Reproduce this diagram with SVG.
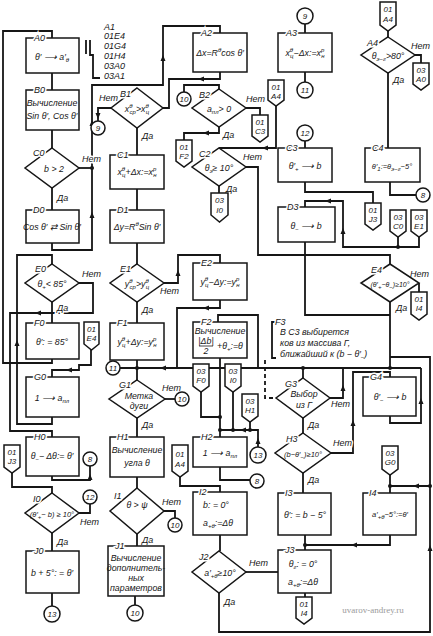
<svg xmlns="http://www.w3.org/2000/svg" xmlns:xlink="http://www.w3.org/1999/xlink" width="433" height="636" viewBox="0 0 433 636">
<style>
.l{fill:none;stroke:#161616;stroke-width:1.8}
.b{fill:#fff;stroke:#161616;stroke-width:1.5}
.t{font-family:"Liberation Sans",Arial,sans-serif;font-style:italic;font-size:8.8px;fill:#161616;text-anchor:middle}
.s{font-size:6px}
.lb{font-family:"Liberation Sans",Arial,sans-serif;font-style:italic;font-size:9px;fill:#161616;paint-order:stroke;stroke:#fff;stroke-width:3}
.c{font-family:"Liberation Sans",Arial,sans-serif;font-style:italic;font-size:8px;fill:#161616;text-anchor:middle}
.ci{fill:#fff;stroke:#161616;stroke-width:1.5}
.d{fill:#161616}
</style>
<defs>
<path id="ah" d="M0,0 L-6,-2.5 L-6,2.5 Z" fill="#161616"/>
</defs>
<rect width="433" height="636" fill="#fff"/>

<g id="connectors">
<path class="l" d="M52,359 V363 H3 V31 H52 V38"/>
<path class="l" d="M52,73 V90 M52,130 V148 M52,188 V210"/>
<path class="l" d="M79,168 H92"/>
<path class="l" d="M52,243 V250 H92 V85 H163 V26 H220 V33"/>
<path class="l" d="M52,417 V424 H17 V255 H52 V264"/>
<path class="l" d="M52,302 V323"/>
<path class="l" d="M79,283 H93 V313 H10 V431 H52 V437"/>
<path class="l" d="M91,350 V365 H79 V370 H52 V377"/>
<path class="l" d="M52,476 V480 H90 V466"/>
<path class="l" d="M12,473 V487 H52 V493"/>
<path class="l" d="M79,513 H90 V504"/>
<path class="l" d="M52,533 V551 M52,593 V606"/>
<path class="l" d="M86,40 V54 M90,40 V55 H93 V78 H100"/>
<path class="l" d="M111,108 H98 V121"/>
<path class="l" d="M220,72 V79 H169 V108 H163"/>
<path class="l" d="M137,128 V155 M137,189 V210 M137,243 V264 M137,302 V323"/>
<path class="l" d="M164,283 H178 V255 H220 V263"/>
<path class="l" d="M220,300 V308 H177 V368"/>
<path class="l" d="M137,360 V380 M120,368 H421"/>
<path class="l" d="M218,322 V315 H258 V368"/>
<path class="l" d="M165,399 H175"/>
<path class="l" d="M137,418 V437 M137,477 V488"/>
<path class="l" d="M164,511 H175 V518"/>
<path class="l" d="M137,534 V546 M135,596 V605"/>
<path class="l" d="M184,92 V85 H219 V89"/>
<path class="l" d="M246,108 H260 V115"/>
<path class="l" d="M219,127 V133 H184 V140"/>
<path class="l" d="M276,106 V148 H219"/>
<path class="l" d="M219,186 V193"/>
<path class="l" d="M246,167 H258 V255 H390 V264"/>
<path class="l" d="M220,358 V437"/>
<path class="l" d="M201,392 V417 H220"/>
<path class="l" d="M233,392 V430 M250,422 V430 M220,430 H258 V447"/>
<path class="l" d="M220,467 V480 H250"/>
<path class="l" d="M180,477 V486 H220 V492"/>
<path class="l" d="M220,535 V551"/>
<path class="l" d="M246,572 H278"/>
<path class="l" d="M219,593 V632 H430 V357 H390"/>
<path class="l" d="M305,24 V33 M305,72 V82 M305,141 V148"/>
<path class="l" d="M305,182 V192 H373 V203"/>
<path class="l" d="M398,237 V247 M419,237 V247 H343 V201 H305 V207"/>
<path class="l" d="M305,242 V315 H390"/>
<path class="l" d="M390,302 V368"/>
<path class="l" d="M419,283 V292"/>
<path class="l" d="M388,31 V37 M415,55 H421 V63 M388,73 V148"/>
<path class="l" d="M390,182 V195 H416"/>
<path class="l" d="M303,368 V378"/>
<path class="l" d="M330,398 H343 V368"/>
<path class="l" d="M303,418 V433"/>
<path class="l" d="M331,453 H353 V372 H390 V377"/>
<path class="l" d="M390,416 V423 H421 V368"/>
<path class="l" d="M303,473 V493"/>
<path class="l" d="M305,535 V550 M390,535 V545 H305"/>
<path class="l" d="M390,475 V493 M390,486 H430"/>
<path class="l" d="M305,593 V597"/>
<path class="l" d="M265,360 V398 H277" stroke-dasharray="4,3"/>
<path class="l" d="M276,322 H272 V358 H276"/>
<use xlink:href="#ah" transform="translate(92,212) rotate(270)"/>
<use xlink:href="#ah" transform="translate(92,120) rotate(270)"/>
<use xlink:href="#ah" transform="translate(163,55) rotate(270)"/>
<use xlink:href="#ah" transform="translate(17,340) rotate(270)"/>
<use xlink:href="#ah" transform="translate(35,313) rotate(180)"/>
<use xlink:href="#ah" transform="translate(66,370) rotate(180)"/>
<use xlink:href="#ah" transform="translate(90,474) rotate(270)"/>
<use xlink:href="#ah" transform="translate(98,119) rotate(90)"/>
<use xlink:href="#ah" transform="translate(198,79) rotate(180)"/>
<use xlink:href="#ah" transform="translate(178,270) rotate(270)"/>
<use xlink:href="#ah" transform="translate(203,308) rotate(180)"/>
<use xlink:href="#ah" transform="translate(160,368) rotate(180)"/>
<use xlink:href="#ah" transform="translate(203,133) rotate(180)"/>
<use xlink:href="#ah" transform="translate(262,148) rotate(180)"/>
<use xlink:href="#ah" transform="translate(240,430) rotate(180)"/>
<use xlink:href="#ah" transform="translate(258,438) rotate(270)"/>
<use xlink:href="#ah" transform="translate(430,545) rotate(270)"/>
<use xlink:href="#ah" transform="translate(325,201) rotate(180)"/>
<use xlink:href="#ah" transform="translate(343,228) rotate(270)"/>
<use xlink:href="#ah" transform="translate(343,385) rotate(270)"/>
<use xlink:href="#ah" transform="translate(353,420) rotate(270)"/>
<use xlink:href="#ah" transform="translate(421,398) rotate(270)"/>
<use xlink:href="#ah" transform="translate(351,545) rotate(180)"/>
<use xlink:href="#ah" transform="translate(413,486) rotate(180)"/>
<circle class="d" cx="92" cy="168" r="2"/>
<circle class="d" cx="137" cy="368" r="2"/>
<circle class="d" cx="220" cy="417" r="2"/>
<circle class="d" cx="220" cy="430" r="2"/>
<circle class="d" cx="233" cy="430" r="2"/>
<circle class="d" cx="250" cy="430" r="2"/>
<circle class="d" cx="398" cy="247" r="2"/>
<circle class="d" cx="303" cy="368" r="2"/>
<circle class="d" cx="390" cy="368" r="2"/>
<circle class="d" cx="305" cy="545" r="2"/>
<circle class="d" cx="390" cy="486" r="2"/>
<circle class="d" cx="430" cy="486" r="2"/>
<text class="lb" x="82" y="162">Нет</text>
<text class="lb" x="57" y="201">Да</text>
<text class="lb" x="82" y="277">Нет</text>
<text class="lb" x="57" y="311">Да</text>
<text class="lb" x="80" y="525">Нет</text>
<text class="lb" x="57" y="545">Да</text>
<text class="lb" x="99" y="101">Нет</text>
<text class="lb" x="142" y="139">Да</text>
<text class="lb" x="160" y="294">Нет</text>
<text class="lb" x="142" y="313">Да</text>
<text class="lb" x="162" y="391">Нет</text>
<text class="lb" x="142" y="428">Да</text>
<text class="lb" x="162" y="505">Нет</text>
<text class="lb" x="142" y="543">Да</text>
<text class="lb" x="246" y="102">Нет</text>
<text class="lb" x="223" y="138">Да</text>
<text class="lb" x="243" y="160">Нет</text>
<text class="lb" x="226" y="192">Да</text>
<text class="lb" x="249" y="566">Нет</text>
<text class="lb" x="224" y="605">Да</text>
<text class="lb" x="411" y="49">Нет</text>
<text class="lb" x="393" y="83">Да</text>
<text class="lb" x="410" y="277">Нет</text>
<text class="lb" x="396" y="311">Да</text>
<text class="lb" x="331" y="407">Нет</text>
<text class="lb" x="308" y="428">Да</text>
<text class="lb" x="333" y="446">Нет</text>
<text class="lb" x="308" y="483">Да</text>
</g>

<g id="A1">
<text class="lb" x="104" y="30">A1</text>
<text class="lb" x="104" y="39">01E4</text>
<text class="lb" x="104" y="49">01G4</text>
<text class="lb" x="104" y="59">01H4</text>
<text class="lb" x="104" y="69">03A0</text>
<text class="lb" x="104" y="79">03A1</text>
</g>

<g id="A0"><rect class="b" x="26" y="38" width="53" height="35"/><text class="lb" x="34" y="41">A0</text><text class="t" x="52" y="60">θ′ ⟶ a′<tspan class="s" dy="2">θ</tspan></text></g>
<g id="B0"><rect class="b" x="26" y="90" width="53" height="40"/><text class="lb" x="34" y="93">B0</text><text class="t" x="52" y="106">Вычисление</text><text class="t" x="52" y="119">Sin θ′, Cos θ′</text></g>
<g id="C0"><path class="b" d="M52,148 L79,168 L52,188 L25,168 Z"/><text class="lb" x="33" y="156">C0</text><text class="t" x="54" y="172">b &gt; 2</text></g>
<g id="D0"><rect class="b" x="26" y="210" width="53" height="33"/><text class="lb" x="33" y="213">D0</text><text class="t" x="52" y="230">Cos θ′ ⇄ Sin θ′</text></g>
<g id="E0"><path class="b" d="M52,264 L79,283 L52,302 L25,283 Z"/><text class="lb" x="35" y="272">E0</text><text class="t" x="52" y="287">θ<tspan class="s" dy="2">+</tspan><tspan dy="-2">&lt; 85°</tspan></text></g>
<g id="F0"><rect class="b" x="26" y="323" width="53" height="36"/><text class="lb" x="34" y="326">F0</text><text class="t" x="52" y="345">θ′: = 85°</text></g>
<g id="G0"><rect class="b" x="26" y="377" width="53" height="40"/><text class="lb" x="34" y="380">G0</text><text class="t" x="52" y="401">1 ⟶ a<tspan class="s" dy="2">пл</tspan></text></g>
<g id="H0"><rect class="b" x="26" y="437" width="53" height="39"/><text class="lb" x="34" y="440">H0</text><text class="t" x="52" y="459">θ<tspan class="s" dy="2">−</tspan><tspan dy="-2">− Δθ:= θ′</tspan></text></g>
<g id="I0"><path class="b" d="M52,493 L79,513 L52,533 L25,513 Z"/><text class="lb" x="33" y="502">I0</text><text class="t" x="52" y="517" style="font-size:7.5px">(θ′<tspan class="s" dy="2">+</tspan><tspan dy="-2">− b) ≥ 10°</tspan></text></g>
<g id="J0"><rect class="b" x="26" y="551" width="53" height="42"/><text class="lb" x="34" y="554">J0</text><text class="t" x="52" y="576">b + 5°: = θ′</text></g>
<g id="n13a"><circle class="ci" cx="52" cy="614" r="8"/><text class="c" x="52" y="617">13</text></g>
<g id="n8a"><circle class="ci" cx="90" cy="459" r="7"/><text class="c" x="90" y="462">8</text></g>
<g id="n12a"><circle class="ci" cx="90" cy="497" r="7"/><text class="c" x="90" y="500">12</text></g>
<g id="k01E4"><path class="b" d="M84,322 H99 V344 L91.5,350 L84,344 Z"/><text class="c" x="91.5" y="332">01</text><text class="c" x="91.5" y="341">E4</text></g>
<g id="k01J3a"><path class="b" d="M4,445 H20 V467 L12,473 L4,467 Z"/><text class="c" x="12" y="455">01</text><text class="c" x="12" y="464">J3</text></g>

<g id="B1"><path class="b" d="M137,88 L163,108 L137,128 L111,108 Z"/><text class="lb" x="120" y="97">B1</text><text class="t" x="137" y="112">x<tspan class="s" dy="-4">θ</tspan><tspan class="s" dx="-3" dy="6">ср</tspan><tspan dy="-2">&gt;x</tspan><tspan class="s" dy="-4">θ</tspan><tspan class="s" dx="-3" dy="6">ц</tspan></text></g>
<g id="n9a"><circle class="ci" cx="98" cy="128" r="7"/><text class="c" x="98" y="131">9</text></g>
<g id="C1"><rect class="b" x="110" y="155" width="54" height="34"/><text class="lb" x="117" y="158">C1</text><text class="t" x="137" y="175">x<tspan class="s" dy="-4">θ</tspan><tspan class="s" dx="-3" dy="6">ц</tspan><tspan dy="-2">+Δx:=x</tspan><tspan class="s" dy="-4">p</tspan><tspan class="s" dx="-3" dy="6">н</tspan></text></g>
<g id="D1"><rect class="b" x="110" y="210" width="54" height="33"/><text class="lb" x="117" y="213">D1</text><text class="t" x="137" y="230">Δy=R<tspan class="s" dy="-4">θ</tspan><tspan dy="4">Sin θ′</tspan></text></g>
<g id="E1"><path class="b" d="M137,264 L164,283 L137,302 L110,283 Z"/><text class="lb" x="120" y="272">E1</text><text class="t" x="137" y="287">y<tspan class="s" dy="-4">θ</tspan><tspan class="s" dx="-3" dy="6">ср</tspan><tspan dy="-2">&gt;y</tspan><tspan class="s" dy="-4">θ</tspan><tspan class="s" dx="-3" dy="6">ц</tspan></text></g>
<g id="F1"><rect class="b" x="110" y="323" width="54" height="37"/><text class="lb" x="117" y="326">F1</text><text class="t" x="137" y="345">y<tspan class="s" dy="-4">θ</tspan><tspan class="s" dx="-3" dy="6">ц</tspan><tspan dy="-2">+Δy:=y</tspan><tspan class="s" dy="-4">p</tspan><tspan class="s" dx="-3" dy="6">н</tspan></text></g>
<g id="n11a"><circle class="ci" cx="113" cy="368" r="7"/><text class="c" x="113" y="371">11</text></g>
<g id="G1"><path class="b" d="M137,380 L165,399 L137,418 L109,399 Z"/><text class="lb" x="119" y="388">G1</text><text class="t" x="139" y="399">Метка</text><text class="t" x="139" y="409">дуги</text></g>
<g id="n10a"><circle class="ci" cx="182" cy="399" r="7"/><text class="c" x="182" y="402">10</text></g>
<g id="H1"><rect class="b" x="110" y="437" width="54" height="40"/><text class="lb" x="117" y="440">H1</text><text class="t" x="137" y="453">Вычисление</text><text class="t" x="137" y="466">угла θ</text></g>
<g id="I1"><path class="b" d="M137,488 L164,511 L137,534 L110,511 Z"/><text class="lb" x="114" y="499">I1</text><text class="t" x="137" y="508">θ &gt; ψ</text></g>
<g id="n10b"><circle class="ci" cx="175" cy="525" r="7"/><text class="c" x="175" y="528">10</text></g>
<g id="J1"><rect class="b" x="108" y="546" width="56" height="50"/><text class="lb" x="115" y="549">J1</text><text class="t" x="136" y="561">Вычисление</text><text class="t" x="136" y="571">дополнитель-</text><text class="t" x="136" y="581">ных</text><text class="t" x="136" y="591">параметров</text></g>
<g id="n10c"><circle class="ci" cx="135" cy="613" r="8"/><text class="c" x="135" y="616">10</text></g>

<g id="A2"><rect class="b" x="193" y="33" width="54" height="39"/><text class="lb" x="201" y="36">A2</text><text class="t" x="220" y="56">Δx=R<tspan class="s" dy="-4">θ</tspan><tspan dy="4">cos θ′</tspan></text></g>
<g id="n10d"><circle class="ci" cx="184" cy="99" r="7"/><text class="c" x="184" y="102">10</text></g>
<g id="B2"><path class="b" d="M219,89 L246,108 L219,127 L192,108 Z"/><text class="lb" x="199" y="98">B2</text><text class="t" x="219" y="112">a<tspan class="s" dy="2">пл</tspan><tspan dy="-2">&gt; 0</tspan></text></g>
<g id="k01C3"><path class="b" d="M252,115 H268 V136 L260,142 L252,136 Z"/><text class="c" x="260" y="125">01</text><text class="c" x="260" y="134">C3</text></g>
<g id="k01A4b"><path class="b" d="M268,80 H284 V100 L276,106 L268,100 Z"/><text class="c" x="276" y="90">01</text><text class="c" x="276" y="99">A4</text></g>
<g id="k01F2"><path class="b" d="M176,140 H192 V161 L184,167 L176,161 Z"/><text class="c" x="184" y="150">01</text><text class="c" x="184" y="159">F2</text></g>
<g id="C2"><path class="b" d="M219,148 L246,167 L219,186 L192,167 Z"/><text class="lb" x="199" y="157">C2</text><text class="t" x="219" y="171">θ<tspan class="s" dy="2">э</tspan><tspan dy="-2">≥ 10°</tspan></text></g>
<g id="k03I0a"><path class="b" d="M211,193 H228 V215 L219.5,222 L211,215 Z"/><text class="c" x="219.5" y="203">03</text><text class="c" x="219.5" y="213">I0</text></g>
<g id="E2"><rect class="b" x="193" y="263" width="54" height="37"/><text class="lb" x="201" y="266">E2</text><text class="t" x="220" y="285">y<tspan class="s" dy="-4">θ</tspan><tspan class="s" dx="-3" dy="6">ц</tspan><tspan dy="-2">−Δy:=y</tspan><tspan class="s" dy="-4">p</tspan><tspan class="s" dx="-3" dy="6">н</tspan></text></g>
<g id="F2"><rect class="b" x="193" y="322" width="54" height="36"/><text class="lb" x="201" y="325">F2</text><text class="t" x="220" y="334">Вычисление</text><text class="t" x="206" y="344">|Δb|</text><path d="M199,346 H213" stroke="#161616" stroke-width="0.8"/><text class="t" x="206" y="354">2</text><text class="t" x="230" y="349">+θ<tspan class="s" dy="2">+</tspan><tspan dy="-2">:=θ</tspan></text></g>
<g id="k03F0"><path class="b" d="M193,364 H209 V386 L201,392 L193,386 Z"/><text class="c" x="201" y="374">03</text><text class="c" x="201" y="383">F0</text></g>
<g id="k03I0b"><path class="b" d="M225,364 H241 V386 L233,392 L225,386 Z"/><text class="c" x="233" y="374">03</text><text class="c" x="233" y="383">I0</text></g>
<g id="k03H1"><path class="b" d="M242,394 H258 V416 L250,422 L242,416 Z"/><text class="c" x="250" y="404">03</text><text class="c" x="250" y="413">H1</text></g>
<g id="n13b"><circle class="ci" cx="258" cy="455" r="8"/><text class="c" x="258" y="458">13</text></g>
<g id="H2"><rect class="b" x="193" y="437" width="54" height="30"/><text class="lb" x="201" y="440">H2</text><text class="t" x="220" y="456">1 ⟶ a<tspan class="s" dy="2">пл</tspan></text></g>
<g id="k01A4c"><path class="b" d="M172,445 H188 V471 L180,477 L172,471 Z"/><text class="c" x="180" y="457">01</text><text class="c" x="180" y="467">A4</text></g>
<g id="n8b"><circle class="ci" cx="257" cy="481" r="7"/><text class="c" x="257" y="484">8</text></g>
<g id="I2"><rect class="b" x="193" y="492" width="54" height="43"/><text class="lb" x="199" y="495">I2</text><text class="t" x="216" y="508">b: = 0°</text><text class="t" x="218" y="526">a<tspan class="s" dy="2">+θ</tspan><tspan dy="-2">:=Δθ</tspan></text></g>
<g id="J2"><path class="b" d="M219,551 L246,572 L219,593 L192,572 Z"/><text class="lb" x="199" y="560">J2</text><text class="t" x="220" y="576">a′<tspan class="s" dy="2">+θ</tspan><tspan dy="-2">≥10°</tspan></text></g>

<g id="n9b"><circle class="ci" cx="305" cy="16" r="8"/><text class="c" x="305" y="19">9</text></g>
<g id="A3"><rect class="b" x="278" y="33" width="54" height="39"/><text class="lb" x="286" y="36">A3</text><text class="t" x="305" y="56">x<tspan class="s" dy="-4">θ</tspan><tspan class="s" dx="-3" dy="6">ц</tspan><tspan dy="-2">−Δx:=x</tspan><tspan class="s" dy="-4">p</tspan><tspan class="s" dx="-3" dy="6">н</tspan></text></g>
<g id="n11b"><circle class="ci" cx="305" cy="90" r="8"/><text class="c" x="305" y="93">11</text></g>
<g id="n12b"><circle class="ci" cx="305" cy="133" r="8"/><text class="c" x="305" y="136">12</text></g>
<g id="C3"><rect class="b" x="278" y="148" width="54" height="34"/><text class="lb" x="286" y="151">C3</text><text class="t" x="305" y="169">θ′<tspan class="s" dy="2">+</tspan><tspan dy="-2"> ⟶ b</tspan></text></g>
<g id="D3"><rect class="b" x="278" y="207" width="57" height="35"/><text class="lb" x="287" y="210">D3</text><text class="t" x="306" y="229">θ<tspan class="s" dy="2">−</tspan><tspan dy="-2"> ⟶ b</tspan></text></g>
<g id="F3"><text class="lb" x="275" y="325">F3</text><text class="t" x="280" y="335" style="text-anchor:start">В С3 выбирется</text><text class="t" x="280" y="346" style="text-anchor:start">ков из массива  Г,</text><text class="t" x="280" y="357" style="text-anchor:start">ближайший к (b − θ′<tspan class="s" dy="2">−</tspan><tspan dy="-2">)</tspan></text></g>
<g id="G3"><path class="b" d="M303,378 L330,398 L303,418 L276,398 Z"/><text class="lb" x="285" y="387">G3</text><text class="t" x="304" y="397">Выбор</text><text class="t" x="304" y="408">из Г</text></g>
<g id="H3"><path class="b" d="M303,433 L331,453 L303,473 L275,453 Z"/><text class="lb" x="286" y="442">H3</text><text class="t" x="303" y="457" style="font-size:7.5px">(b−θ′<tspan class="s" dy="2">−</tspan><tspan dy="-2">)≥10°</tspan></text></g>
<g id="I3"><rect class="b" x="278" y="493" width="53" height="42"/><text class="lb" x="285" y="496">I3</text><text class="t" x="305" y="518">θ′: = b − 5°</text></g>
<g id="J3"><rect class="b" x="278" y="550" width="53" height="43"/><text class="lb" x="285" y="553">J3</text><text class="t" x="303" y="567">θ<tspan class="s" dy="2">г</tspan><tspan dy="-2">: = 0°</tspan></text><text class="t" x="303" y="585">a<tspan class="s" dy="2">+θ</tspan><tspan dy="-2">:=Δθ</tspan></text></g>
<g id="k01I4b"><path class="b" d="M296,597 H312 V618 L304,624 L296,618 Z"/><text class="c" x="304" y="607">01</text><text class="c" x="304" y="616">I4</text></g>

<g id="k01A4a"><path class="b" d="M380,2 H396 V25 L388,31 L380,25 Z"/><text class="c" x="388" y="12">01</text><text class="c" x="388" y="22">A4</text></g>
<g id="A4"><path class="b" d="M388,37 L415,55 L388,73 L361,55 Z"/><text class="lb" x="367" y="46">A4</text><text class="t" x="388" y="59">θ<tspan class="s" dy="2">э−г</tspan><tspan dy="-2">&gt;80°</tspan></text></g>
<g id="k03A0"><path class="b" d="M413,63 H429 V84 L421,90 L413,84 Z"/><text class="c" x="421" y="73">03</text><text class="c" x="421" y="82">A0</text></g>
<g id="C4"><rect class="b" x="365" y="148" width="55" height="34"/><text class="lb" x="372" y="151">C4</text><text class="t" x="392" y="169" style="font-size:7.5px">θ′<tspan class="s" dy="2">1</tspan><tspan dy="-2">:=θ</tspan><tspan class="s" dy="2">э−г</tspan><tspan dy="-2">−5°</tspan></text></g>
<g id="n8c"><circle class="ci" cx="423" cy="195" r="7"/><text class="c" x="423" y="198">8</text></g>
<g id="k01J3b"><path class="b" d="M365,203 H381 V224 L373,230 L365,224 Z"/><text class="c" x="373" y="213">01</text><text class="c" x="373" y="222">J3</text></g>
<g id="k03C0"><path class="b" d="M390,210 H406 V231 L398,237 L390,231 Z"/><text class="c" x="398" y="220">03</text><text class="c" x="398" y="229">C0</text></g>
<g id="k03E1"><path class="b" d="M411,210 H427 V231 L419,237 L411,231 Z"/><text class="c" x="419" y="220">03</text><text class="c" x="419" y="229">E1</text></g>
<g id="E4"><path class="b" d="M390,264 L419,283 L390,302 L361,283 Z"/><text class="lb" x="371" y="273">E4</text><text class="t" x="390" y="287" style="font-size:7px">(θ′<tspan class="s" dy="2">+</tspan><tspan dy="-2">−θ</tspan><tspan class="s" dy="2">−</tspan><tspan dy="-2">)≥10°</tspan></text></g>
<g id="k01I4a"><path class="b" d="M411,292 H427 V314 L419,320 L411,314 Z"/><text class="c" x="419" y="302">01</text><text class="c" x="419" y="311">I4</text></g>
<g id="G4"><rect class="b" x="363" y="377" width="53" height="39"/><text class="lb" x="370" y="380">G4</text><text class="t" x="390" y="400">θ′<tspan class="s" dy="2">−</tspan><tspan dy="-2"> ⟶ b</tspan></text></g>
<g id="k03G0"><path class="b" d="M382,446 H398 V469 L390,475 L382,469 Z"/><text class="c" x="390" y="456">03</text><text class="c" x="390" y="465">G0</text></g>
<g id="I4"><rect class="b" x="363" y="493" width="53" height="42"/><text class="lb" x="369" y="496">I4</text><text class="t" x="390" y="517" style="font-size:7.5px">a′<tspan class="s" dy="2">+θ</tspan><tspan dy="-2">−5°:=θ′</tspan></text></g>
<text x="373" y="613" style="font-family:'Liberation Serif',serif;font-size:9px;fill:#9a9a9a;text-anchor:middle">uvarov-andrey.ru</text>
</svg>
